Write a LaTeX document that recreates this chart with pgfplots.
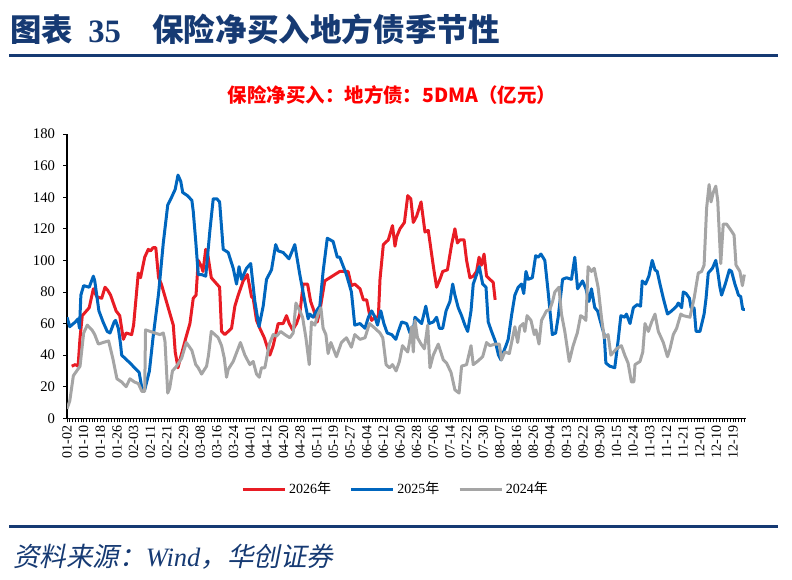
\documentclass[border=0pt]{standalone}
\usepackage{fontspec}
\usepackage{pgfplots}
\pgfplotsset{compat=1.18}
\setmainfont{Liberation Serif}
\newfontfamily\cjk{Noto Sans CJK SC}
\newfontfamily\cjkit{Noto Sans CJK SC}[FakeSlant=0.2]
\definecolor{navy}{RGB}{22,58,115}
\definecolor{sred}{RGB}{232,28,36}
\definecolor{sblue}{RGB}{0,102,190}
\definecolor{sgray}{RGB}{165,165,165}
\definecolor{tred}{RGB}{255,0,0}
\begin{document}
\begin{tikzpicture}[x=0.75pt,y=0.75pt]
\path[use as bounding box] (0,0) rectangle (792,579);
% header
\node[anchor=base west,inner sep=0,text=navy,font=\fontsize{23.5}{24}\selectfont\cjk\bfseries] at (10,579-42) {图表};
\node[anchor=base west,inner sep=0,text=navy,font=\fontsize{24.5}{25}\selectfont\bfseries] at (88,579-43) {35};
\node[anchor=base west,inner sep=0,text=navy,font=\fontsize{23.7}{24}\selectfont\cjk\bfseries] at (152,579-42) {保险净买入地方债季节性};
\fill[navy] (9,579-57.5) rectangle (778,579-54.5);
\node[anchor=center,inner sep=0,text=tred,font=\fontsize{14.6}{15}\selectfont\cjk\bfseries] at (392,579-95.5) {保险净买入：地方债：5DMA（亿元）};
% footer
\fill[navy] (9,579-527.7) rectangle (778,579-525);
\node[anchor=base west,inner sep=0,text=navy,font=\fontsize{19.9}{20}\selectfont] at (13,579-566) {{\cjkit 资料来源：}{\itshape Wind}{\cjkit ，华创证券}};
\begin{axis}[
  at={(50.25pt,120.525pt)}, anchor=south west,
  scale only axis, width=509.25pt, height=213.2pt,
  xmin=0, xmax=244.7, ymin=0, ymax=180,
  axis x line*=bottom, axis y line*=left,
  axis line style={-, black, line width=0.8pt},
  tick align=outside,
  major tick length=3pt, minor tick length=3pt,
  every tick/.style={black, line width=0.5pt},
  ytick={0,20,...,180},
  xtick={0,6,...,240},
  minor xtick={0,1,...,244},
  xticklabels={01-02,01-10,01-18,01-26,02-03,02-11,02-21,02-29,03-08,03-16,03-24,04-01,04-12,04-20,04-28,05-11,05-19,05-27,06-04,06-12,06-20,06-28,07-06,07-14,07-22,07-30,08-07,08-16,08-26,09-04,09-13,09-22,09-30,10-15,10-24,11-03,11-12,11-21,12-01,12-10,12-19},
  xticklabel style={rotate=90, anchor=east, font=\fontsize{10.5}{10.5}\selectfont, inner sep=2.5pt},
  yticklabel style={font=\fontsize{11}{11}\selectfont, xshift=-2.5pt},
  /pgf/number format/assume math mode=true,
  legend style={at={(0.4845,-0.249)}, anchor=center, draw=none, fill=none, legend columns=3,
    font=\fontsize{10.5}{12}\selectfont,
    /tikz/every even column/.append style={column sep=12pt}},
  legend image code/.code={\draw[#1, line width=2.25pt] (0pt,0pt) -- (31.5pt,0pt);},
  every axis plot/.append style={line width=2.25pt, line join=round},
]
\addplot[sred] coordinates {(1.7,33)(3,34)(4,33)(4.7,51)(5.5,65)(7,68)(8,70)(9.5,82)(10.7,77)(12.5,76)(13.7,83)(14.7,81)(15.7,78)(17.7,68)(19,65)(20.3,50)(21.3,54)(23.3,53)(24,59)(25.7,92)(26.5,89)(28,102)(29.3,107)(30.1,106)(31,108)(32,108)(33,89)(34,85)(38.3,59)(39,42)(40,32)(40.7,37)(43,52)(44.3,60)(45.5,76)(46.5,78)(47.3,100)(48.5,96)(49,93)(50,107)(50.7,104)(52,89)(54,85)(55,83)(55.7,55)(56.9,53)(59.3,57)(60.5,71)(61.7,78)(63.5,87)(65,91)(66.5,77)(67.1,76)(68.3,62)(69.5,57)(71.1,51)(73.1,40)(74.3,46)(76.1,60)(77.9,60)(79.1,65)(80.1,60)(81.3,56)(82.7,60)(83.9,66)(85.1,85)(86.7,85)(87.8,74)(89,68)(90.2,61)(91.4,71)(92.9,87)(94.7,89)(96.5,91)(98.3,93)(99.8,93)(101.3,93)(102.5,84)(103.7,85)(105.6,82)(106.8,75)(108,75)(109,66)(109.8,62)(111,64)(112.2,64)(112.8,88)(114,110)(115.8,113)(117.3,122)(118.2,109)(118.8,115)(120,120)(121.6,124)(122.8,141)(123.9,139)(124.8,124)(126,128)(127.6,137)(129,118)(130.2,119)(131.4,104)(132.3,93)(133.2,83)(134.4,88)(135.4,93)(137.1,94)(138.6,110)(139.8,120)(140.7,111)(141.6,113)(143.1,113)(144,100)(145.2,89)(146.4,90)(147.6,93)(148.5,102)(149.4,97)(150.3,104)(151.2,90)(152.4,88)(153.6,86)(154.3,75)};
\addlegendentry{2026{\cjk 年}}
\addplot[sblue] coordinates {(0,64)(1,58)(3,61)(4,63)(4.5,57)(5,78)(6,84)(8,83)(9.5,90)(10,87)(11.5,68)(13,61)(14.5,55)(15.5,54)(17,61)(17.5,62)(18.5,57)(19.3,47)(19.7,40)(22.7,35)(26,29)(27,19)(28,18)(29.7,30)(31,51)(33,79)(34.7,111)(36.3,135)(37.7,140)(39,145)(40,154)(41,150)(41.7,143)(43.4,141)(45,138)(45.5,131)(46.4,112)(47.3,91)(48.5,91)(50,90)(51.5,119)(52.7,139)(54,139)(55,137)(56.3,107)(58.1,105)(59.9,95)(61.1,85)(62,96)(62.9,88)(64.7,95)(66.2,98)(67.7,74)(69.2,58)(70.7,71)(71.9,88)(73.7,94)(75.2,110)(76.1,106)(77.9,105)(80,101)(82.1,110)(83.9,91)(85.7,74)(86.9,63)(87.5,66)(88.7,64)(89.9,68)(91.1,71)(92.3,93)(93.8,114)(95.9,112)(97.4,102)(98.3,102)(100.7,91)(102.5,80)(103.7,59)(105.6,60)(107.4,57)(108.6,64)(109.8,68)(111,64)(111.9,59)(113.1,68)(114.2,60)(115.4,54)(117,53)(118.5,50)(119.4,55)(120.6,61)(122.4,60)(123.6,54)(124.6,53)(125.4,64)(126.6,62)(127.8,60)(129.3,71)(130.5,60)(132,61)(133.2,64)(134.2,57)(135.4,57)(136.6,68)(138,74)(139,85)(139.8,78)(141,70)(142.2,65)(143.4,59)(144.4,55)(145.6,68)(146.4,85)(147.6,91)(148.6,96)(149.8,85)(151,83)(151.8,61)(153,55)(154.3,49)(155.5,40)(156.4,37)(157.3,42)(158.2,46)(159,50)(160.2,65)(161.4,78)(162.6,83)(163.8,85)(164.6,79)(165.4,93)(166.2,88)(167.7,89)(168.9,103)(169.8,102)(170.8,104)(172.2,100)(173.4,80)(174,69)(174.9,53)(176.1,54)(177,64)(178.6,88)(180,89)(181.8,88)(183,102)(184,82)(185.8,87)(187,82)(188.1,74)(189,82)(190.2,70)(191.2,68)(192.6,59)(193.6,53)(194.2,35)(195.6,33)(197.4,32)(198.6,49)(199.6,65)(201,64)(201.6,66)(202.9,60)(204.1,70)(205.5,72)(206.7,71)(207.3,87)(208.5,85)(209.7,90)(210.9,100)(211.9,94)(212.7,93)(213.7,85)(214.9,76)(216.4,66)(217.9,68)(219.7,71)(220.3,73)(221.5,70)(222.1,80)(223.1,79)(224.3,76)(224.9,70)(226,70)(226.7,55)(228.1,55)(229.6,66)(230.3,76)(231.1,92)(232.6,95)(233.8,100)(234.5,93)(235.3,83)(235.9,78)(237.4,86)(238.7,94)(239.5,93)(240.7,85)(242,78)(242.8,77)(243.5,69)(244.3,69)};
\addlegendentry{2025{\cjk 年}}
\addplot[sgray] coordinates {(0,6)(1,11)(2.3,27)(3.5,30)(4.7,33)(6,54)(7.3,59)(9,56)(10,53)(11.3,47)(13,48)(15,49)(16.5,38)(18,25)(19.7,23)(21.3,20)(22.7,25)(24.3,23)(25.7,22)(27,17)(28,17)(28.3,56)(30,55)(31.7,54)(33.5,53)(34.7,54)(35.3,49)(36.3,16)(37,19)(38,30)(39.5,33)(41.3,38)(43,48)(45,43)(46.4,34)(47.3,32)(48.5,28)(50.3,33)(51,40)(52,55)(53.3,53)(54.5,51)(55.7,46)(56.7,38)(57.5,26)(58.1,31)(59.9,36)(62.5,48)(64.1,40)(65.9,34)(67.1,36)(68.3,28)(69.3,26)(70.1,32)(71.3,32)(72.9,47)(74.3,53)(75.5,52)(77,55)(78.5,53)(80.3,51)(81.5,54)(82.5,73)(83.9,68)(84.9,64)(86.1,51)(87.3,34)(88.1,61)(89.3,59)(90.5,66)(91.5,70)(92.3,57)(93.3,53)(94.1,41)(95.1,48)(97.1,39)(98.9,48)(100.7,51)(102.5,45)(103.7,53)(105.6,50)(107.4,51)(109,60)(111,57)(112.8,54)(113.8,51)(115,34)(116.2,32)(117.3,34)(118.6,30)(119.8,36)(120.9,46)(121.8,44)(122.8,42)(123.6,50)(124.2,58)(124.8,42)(125.4,62)(126.3,51)(127.6,47)(128.8,44)(130,59)(130.8,32)(132,40)(133.8,47)(135.6,37)(136.8,35)(138.4,29)(139.8,18)(141.3,16)(142.2,33)(144,34)(145.6,46)(146.4,34)(147.9,36)(149.8,39)(151.2,48)(152.4,46)(154.3,47)(155.8,47)(156.6,37)(157.8,42)(159.4,41)(161.4,58)(162.4,48)(163.2,58)(164.4,60)(165,55)(165.8,65)(167.2,62)(168.4,53)(169,56)(170.1,47)(171,62)(172.8,68)(174,69)(175,74)(175.8,80)(177.3,83)(178.2,66)(179.4,55)(181,36)(182.4,46)(183.9,54)(185.1,65)(186,64)(187,62)(187.8,96)(189,93)(190,95)(191.4,83)(192.6,64)(193.6,51)(195,53)(196,40)(198,44)(199.8,46)(201,40)(202.2,35)(203.4,23)(204.3,23)(204.7,34)(206.5,36)(207.5,42)(208.3,60)(209.5,55)(210.7,61)(211.9,66)(213.1,55)(214.9,48)(216.4,39)(217.3,44)(218.5,53)(219.7,57)(221.2,66)(222.1,65)(224.5,64)(226,76)(227.5,92)(228.7,93)(229.6,97)(230.5,133)(231.4,148)(232.1,137)(232.9,143)(233.8,147)(234.5,138)(235.6,98)(236.5,123)(237.7,123)(239.3,119)(240.4,116)(241.1,97)(242.5,93)(243.4,84)(244.1,91)};
\addlegendentry{2024{\cjk 年}}
\end{axis}
\end{tikzpicture}
\end{document}
